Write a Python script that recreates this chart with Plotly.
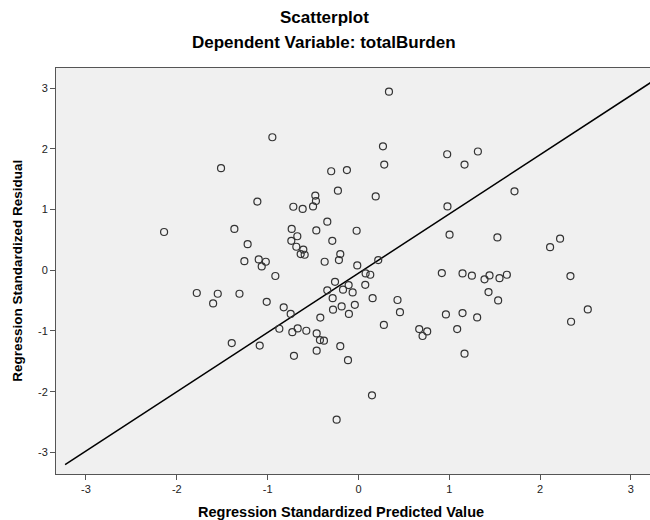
import plotly.graph_objects as go

# Regression standardized predicted values (x) and standardized residuals (y)
x_pred = [
    -1.513, -2.14, -1.366, -1.22, -1.256, -1.78, -1.549, -1.60, -1.31, -1.395,
    0.336, -0.948, 0.27, 0.284, -0.30, -0.127, -0.226, 0.19, -1.113, -0.475,
    -0.468, -0.50, -0.717, -0.614, -0.343, -0.735, -0.464, -0.02, -0.673, -0.739,
    -0.288, -0.684, -0.607, -0.636, -0.592, -0.20,
    -1.098, -1.02, -1.065, -0.372, -0.215, 0.218, -0.915, -0.013, 0.079, 0.13,
    -0.258, -0.108, 0.075, -0.343, -0.17, -0.064, -0.284, 0.156, 0.43, -1.01,
    -0.823, -0.04, -0.185, -0.28, 0.457, -0.746, -0.105, -0.42, 0.28, -0.871,
    -0.669, -0.728, -0.574, -0.46, 0.669, 0.757, 0.706, -0.424, -0.38, -1.087,
    -0.20, -0.46, -0.71, -0.115, 0.149, -0.24,
    0.977, 1.315, 1.168, 1.718, 0.98, 1.003, 1.53, 2.22, 2.11,
    0.918, 1.146, 1.249, 1.388, 1.443, 1.553, 1.634, 2.334, 1.432, 1.538,
    0.963, 1.146, 1.307, 1.087, 2.525, 2.341, 1.168,
]
y_resid = [
    1.68, 0.63, 0.68, 0.43, 0.15, -0.375, -0.387, -0.546, -0.387, -1.20,
    2.94, 2.19, 2.04, 1.74, 1.63, 1.65, 1.31, 1.215, 1.13, 1.23,
    1.14, 1.05, 1.045, 1.01, 0.80, 0.68, 0.655, 0.65, 0.56, 0.485,
    0.485, 0.387, 0.34, 0.267, 0.255, 0.267,
    0.178, 0.14, 0.063, 0.14, 0.168, 0.168, -0.095, 0.08, -0.053, -0.074,
    -0.19, -0.245, -0.24, -0.33, -0.32, -0.365, -0.46, -0.46, -0.49, -0.52,
    -0.61, -0.57, -0.595, -0.65, -0.69, -0.72, -0.72, -0.78, -0.90, -0.963,
    -0.958, -1.02, -0.996, -1.04, -0.968, -1.007, -1.083, -1.15, -1.16, -1.24,
    -1.25, -1.325, -1.41, -1.48, -2.06, -2.46,
    1.91, 1.955, 1.74, 1.30, 1.05, 0.585, 0.54, 0.52, 0.38,
    -0.046, -0.053, -0.09, -0.15, -0.085, -0.13, -0.074, -0.096, -0.36, -0.497,
    -0.727, -0.705, -0.777, -0.968, -0.645, -0.848, -1.374,
]

# Reference line endpoints
line_x = [-3.23, 3.33]
line_y = [-3.2, 3.2]

tick_vals = [-3, -2, -1, 0, 1, 2, 3]
tick_text = ["-3", "-2", "-1", "0", "1", "2", "3"]

FONT = "Arial, Liberation Sans, sans-serif"

fig = go.Figure()
fig.add_trace(go.Scatter(
    x=line_x, y=line_y, mode="lines",
    line=dict(color="black", width=1.5),
    hoverinfo="skip", showlegend=False,
))
fig.add_trace(go.Scatter(
    x=x_pred, y=y_resid, mode="markers",
    marker=dict(symbol="circle-open", size=7, color="#333333",
                line=dict(width=1.2, color="#333333")),
    showlegend=False,
))

axis_common = dict(
    showgrid=False, zeroline=False,
    showline=True, linecolor="#555555", linewidth=1,
    ticks="outside", ticklen=5, tickcolor="#555555", tickwidth=1,
    tickfont=dict(family=FONT, size=11, color="#222222"),
    tickvals=tick_vals, ticktext=tick_text,
)

fig.update_layout(
    width=650, height=520,
    margin=dict(l=56, r=0, t=68, b=46),
    paper_bgcolor="white",
    plot_bgcolor="#f0f0f0",
    xaxis=dict(range=[-3.33, 3.21], mirror=True, **axis_common),
    yaxis=dict(range=[-3.355, 3.33], mirror=False, **axis_common),
    font=dict(family=FONT),
    annotations=[
        dict(text="<b>Scatterplot</b>", xref="paper", yref="paper",
             x=0.452, y=1.124, xanchor="center", yanchor="middle",
             showarrow=False, font=dict(family=FONT, size=17, color="black")),
        dict(text="<b>Dependent Variable: totalBurden</b>", xref="paper", yref="paper",
             x=0.452, y=1.063, xanchor="center", yanchor="middle",
             showarrow=False, font=dict(family=FONT, size=17, color="black")),
        dict(text="<b>Regression Standardized Predicted Value</b>", xref="paper", yref="paper",
             x=0.48, y=-0.093, xanchor="center", yanchor="middle",
             showarrow=False, font=dict(family=FONT, size=14.5, color="black")),
        dict(text="<b>Regression Standardized Residual</b>", xref="paper", yref="paper",
             x=-0.066, y=0.5, xanchor="center", yanchor="middle", textangle=-90,
             showarrow=False, font=dict(family=FONT, size=13.5, color="black")),
    ],
)

fig.write_html(
    "out.html",
    config={"displayModeBar": False},
    post_script="document.body.style.margin='0';document.body.style.overflow='hidden';",
)
